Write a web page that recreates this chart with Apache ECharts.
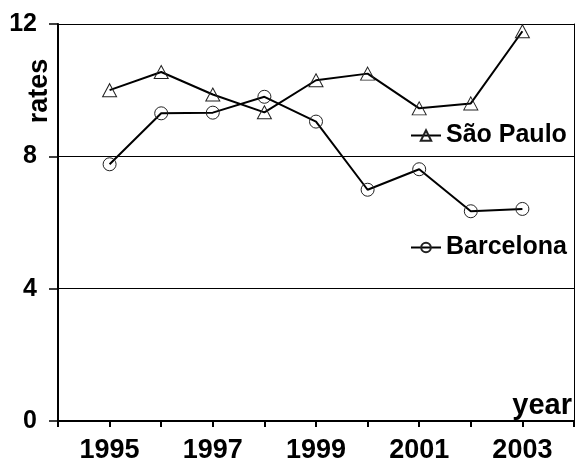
<!DOCTYPE html>
<html>
<head>
<meta charset="utf-8">
<script src="https://cdn.jsdelivr.net/npm/echarts@6/dist/echarts.min.js"></script>
<style>
html,body{margin:0;padding:0;background:#fff;}
#chart{width:577px;height:464px;}
</style>
</head>
<body>
<div id="chart"></div>
<script>
const years = [1995, 1996, 1997, 1998, 1999, 2000, 2001, 2002, 2003];
const saoPaulo = [10.0, 10.55, 9.87, 9.33, 10.3, 10.5, 9.45, 9.6, 11.78];
const barcelona = [7.76, 9.3, 9.32, 9.8, 9.05, 6.99, 7.61, 6.34, 6.41];
const xTickLabels = ['1995', '1997', '1999', '2001', '2003'];
const yTickLabels = ['0', '4', '8', '12'];

const font = '"Liberation Sans", Arial, sans-serif';
const pair = (vals) => years.map((y, i) => [y, vals[i]]);

const chart = echarts.init(document.getElementById('chart'), null, {renderer: 'canvas'});
chart.setOption({
  animation: false,
  backgroundColor: '#fff',
  grid: {left: 58, right: 1, top: 24, bottom: 41, containLabel: false},
  xAxis: [{
    type: 'value', min: 1994, max: 2004, interval: 1,
    axisLine: {show: true, lineStyle: {color: '#000', width: 2}},
    axisTick: {show: true, inside: false, length: 6, lineStyle: {color: '#000', width: 2}},
    axisLabel: {
      show: true, margin: 16, color: '#000', fontFamily: font, fontWeight: 'bold', fontSize: 27,
      formatter: v => xTickLabels.includes(String(v)) ? String(v) : ''
    },
    splitLine: {show: false}
  }, {
    type: 'value', position: 'top', min: 1994, max: 2004,
    axisLine: {show: true, lineStyle: {color: '#000', width: 2}},
    axisTick: {show: false}, axisLabel: {show: false}, splitLine: {show: false}
  }],
  yAxis: [{
    type: 'value', min: 0, max: 12, interval: 4,
    axisLine: {show: true, lineStyle: {color: '#000', width: 2}},
    axisTick: {show: true, inside: false, length: 9, lineStyle: {color: '#000', width: 1.5}},
    axisLabel: {
      show: true, margin: 21, color: '#000', fontFamily: font, fontWeight: 'bold', fontSize: 25,
      formatter: v => yTickLabels.includes(String(v)) ? String(v) : ''
    },
    splitLine: {show: true, lineStyle: {color: '#000', width: 1}}
  }, {
    type: 'value', position: 'right', min: 0, max: 12,
    axisLine: {show: true, lineStyle: {color: '#000', width: 1}},
    axisTick: {show: false}, axisLabel: {show: false}, splitLine: {show: false}
  }],
  legend: [{
    data: ['São Paulo'], left: 410, top: 123, padding: 0, itemWidth: 30, itemHeight: 13, itemGap: 4,
    textStyle: {color: '#000', fontFamily: font, fontWeight: 'bold', fontSize: 25}
  }, {
    data: ['Barcelona'], left: 410, top: 235, padding: 0, itemWidth: 30, itemHeight: 12, itemGap: 4,
    textStyle: {color: '#000', fontFamily: font, fontWeight: 'bold', fontSize: 25}
  }],
  graphic: [{
    type: 'text', x: 40, y: 91, rotation: Math.PI / 2,
    style: {text: 'rates', x: 0, y: 0, align: 'center', verticalAlign: 'middle', fill: '#000', font: 'bold 27px ' + font}
  }, {
    type: 'text', x: 572, y: 406,
    style: {text: 'year', x: 0, y: 0, align: 'right', verticalAlign: 'middle', fill: '#000', font: 'bold 29px ' + font}
  }],
  series: [{
    name: 'São Paulo', type: 'line', data: pair(saoPaulo),
    symbol: 'triangle', symbolSize: [14, 13],
    lineStyle: {color: '#000', width: 2},
    itemStyle: {color: 'rgba(255,255,255,0)', borderColor: '#222', borderWidth: 1}
  }, {
    name: 'Barcelona', type: 'line', data: pair(barcelona),
    symbol: 'circle', symbolSize: 13,
    lineStyle: {color: '#000', width: 2},
    itemStyle: {color: 'rgba(255,255,255,0)', borderColor: '#222', borderWidth: 1}
  }]
});
</script>
</body>
</html>
